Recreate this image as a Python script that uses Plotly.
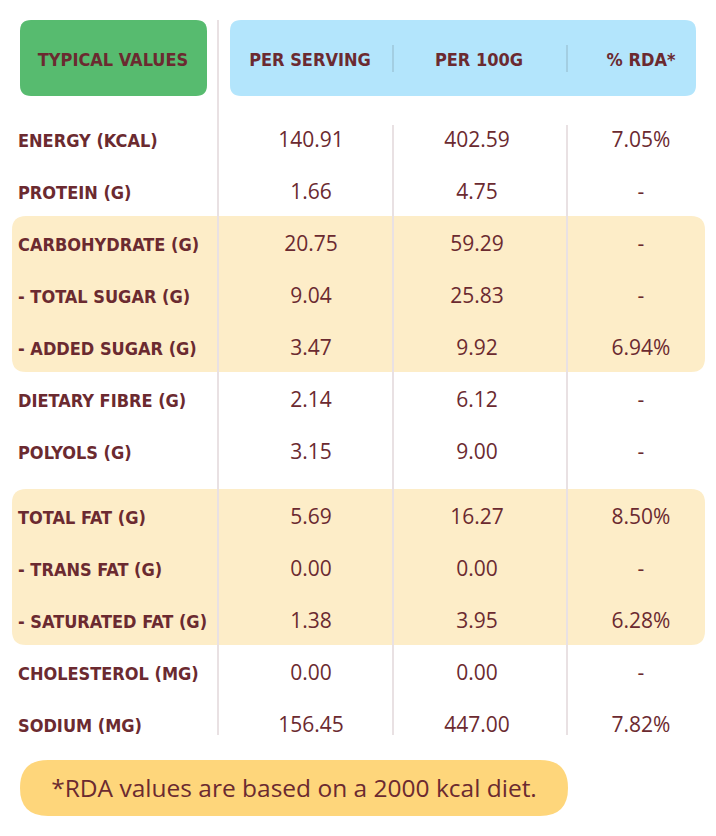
import plotly.graph_objects as go

# ---------------- data ----------------
nutrients = [
    "ENERGY (KCAL)", "PROTEIN (G)", "CARBOHYDRATE (G)", "- TOTAL SUGAR (G)",
    "- ADDED SUGAR (G)", "DIETARY FIBRE (G)", "POLYOLS (G)", "TOTAL FAT (G)",
    "- TRANS FAT (G)", "- SATURATED FAT (G)", "CHOLESTEROL (MG)", "SODIUM (MG)",
]
per_serving = ["140.91", "1.66", "20.75", "9.04", "3.47", "2.14", "3.15",
               "5.69", "0.00", "1.38", "0.00", "156.45"]
per_100g = ["402.59", "4.75", "59.29", "25.83", "9.92", "6.12", "9.00",
            "16.27", "0.00", "3.95", "0.00", "447.00"]
rda = ["7.05%", "-", "-", "-", "6.94%", "-", "-",
       "8.50%", "-", "6.28%", "-", "7.82%"]
headers = ["TYPICAL VALUES", "PER SERVING", "PER 100G", "% RDA*"]
footnote = "*RDA values are based on a 2000 kcal diet."

# ---------------- style ----------------
W, H = 716, 836
OFF = 8  # page body margin
MAROON = "#6B2A30"
COND = "DejaVu Sans Condensed, Liberation Sans Narrow, sans-serif"
BODY = "Open Sans, Lato, sans-serif"
col_x = [311, 477, 641]
label_x = 18

def row_y(i):
    return 140 + 52 * i + (13 if i >= 7 else 0)

ys = [row_y(i) + 2 for i in range(len(nutrients))]

def rrect(x0, y0, x1, y1, r):
    return (f"M {x0+r},{y0} L {x1-r},{y0} Q {x1},{y0} {x1},{y0+r} "
            f"L {x1},{y1-r} Q {x1},{y1} {x1-r},{y1} L {x0+r},{y1} "
            f"Q {x0},{y1} {x0},{y1-r} L {x0},{y0+r} Q {x0},{y0} {x0+r},{y0} Z")

shapes = []
shapes.append(dict(type="path", path=rrect(20, 20, 207, 96, 11), fillcolor="#57BB6F",
                   line=dict(width=0), layer="below"))
shapes.append(dict(type="path", path=rrect(230, 20, 696, 96, 11), fillcolor="#B3E5FC",
                   line=dict(width=0), layer="below"))
for a, b in [(2, 4), (7, 9)]:
    shapes.append(dict(type="path", path=rrect(12, row_y(a) - 28, 705, row_y(b) + 24, 14),
                       fillcolor="#FDEDC8", line=dict(width=0), layer="below"))
shapes.append(dict(type="path", path=rrect(20, 760, 568, 816, 28), fillcolor="#FED67B",
                   line=dict(width=0), layer="below"))
shapes.append(dict(type="line", x0=218, x1=218, y0=20, y1=735,
                   line=dict(color="#E9E1E3", width=2), layer="below"))
for x in [393, 567]:
    shapes.append(dict(type="line", x0=x, x1=x, y0=125, y1=735,
                       line=dict(color="#E9E1E3", width=2), layer="below"))
    shapes.append(dict(type="line", x0=x, x1=x, y0=45, y1=72,
                       line=dict(color="#A3CEE2", width=2), layer="below"))

fig = go.Figure()
fig.add_trace(go.Scatter(
    x=[label_x] * len(nutrients), y=ys, mode="text", text=nutrients,
    textposition="middle right",
    textfont=dict(family=COND, size=18, color=MAROON, weight="bold"),
    hoverinfo="skip", showlegend=False))
for cx, vals in zip(col_x, [per_serving, per_100g, rda]):
    fig.add_trace(go.Scatter(
        x=[cx] * len(vals), y=ys, mode="text", text=vals,
        textposition="middle center",
        textfont=dict(family=BODY, size=21, color=MAROON),
        hoverinfo="skip", showlegend=False))

fig.add_trace(go.Scatter(
    x=[113, 310, 479, 641], y=[61] * 4, mode="text", text=headers,
    textposition="middle center",
    textfont=dict(family=COND, size=18, color=MAROON, weight="bold"),
    hoverinfo="skip", showlegend=False))
fig.add_trace(go.Scatter(
    x=[294], y=[791], mode="text", text=[footnote],
    textposition="middle center",
    textfont=dict(family=BODY, size=24.5, color=MAROON),
    hoverinfo="skip", showlegend=False))

fig.update_layout(
    width=W - OFF, height=H - OFF, margin=dict(l=0, r=0, t=0, b=0),
    paper_bgcolor="white", plot_bgcolor="white",
    xaxis=dict(range=[OFF, W], visible=False, fixedrange=True),
    yaxis=dict(range=[H, OFF], visible=False, fixedrange=True),
    shapes=shapes,
)
fig.write_html("out.html")
